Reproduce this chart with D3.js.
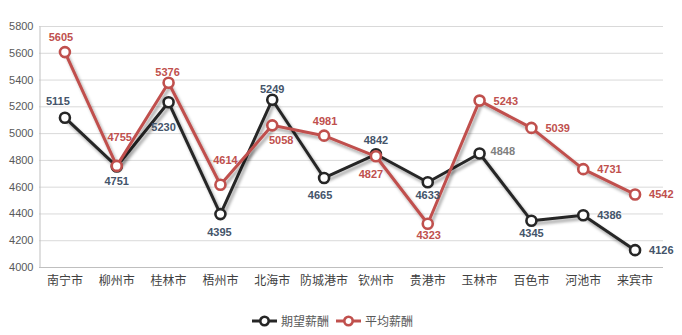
<!DOCTYPE html>
<html><head><meta charset="utf-8">
<script src="https://cdn.jsdelivr.net/npm/d3@7"></script>
<style>body{margin:0;background:#fff}svg{display:block}</style>
</head><body>
<svg id="c" width="682" height="335"></svg>
<script>
const categories = ["南宁市","柳州市","桂林市","梧州市","北海市","防城港市","钦州市","贵港市","玉林市","百色市","河池市","来宾市"];
const expected = [5115,4751,5230,4395,5249,4665,4842,4633,4848,4345,4386,4126];
const average  = [5605,4755,5376,4614,5058,4981,4827,4323,5243,5039,4731,4542];
const yTicks = [4000,4200,4400,4600,4800,5000,5200,5400,5600,5800];
const seriesNames = ["期望薪酬","平均薪酬"];

// label placement (layout only): [dx, dy of label centre, anchor]
const expectedLabelLayout = [[-7,-17,"m"],[0,15,"m"],[-5,25,"m"],[-1,18,"m"],[0,-11,"m"],[-4,17,"m"],[0,-14,"m"],[0,13,"m"],[11,-2,"s"],[0,12,"m"],[14,0,"s"],[14,0,"s"]];
const averageLabelLayout  = [[-4,-15,"m"],[3,-29,"m"],[-1,-11,"m"],[5,-25,"m"],[9,15,"m"],[1,-15,"m"],[-5,18,"m"],[1,11,"m"],[14,0,"s"],[14,0,"s"],[14,0,"s"],[14,0,"s"]];

const svg = d3.select("#c");
const L=39, R=661, T=26, B=267;
const x = d3.scaleBand().domain(categories).range([L,R]);
const y = d3.scaleLinear().domain([4000,5800]).range([B,T]);

const defs = svg.append("defs");
const f = defs.append("filter").attr("id","sh").attr("x","-10%").attr("y","-10%").attr("width","130%").attr("height","140%");
f.append("feDropShadow").attr("dx",2).attr("dy",3).attr("stdDeviation",1.6).attr("flood-color","#000").attr("flood-opacity",0.35);

// gridlines
svg.append("g").selectAll("line").data(yTicks).join("line")
  .attr("x1",L).attr("x2",663).attr("y1",d=>y(d)+0.5).attr("y2",d=>y(d)+0.5)
  .attr("stroke","#d9d9d9").attr("stroke-width",1);

// y axis
const ya = svg.append("g").attr("transform",`translate(${L+0.5},0)`)
  .call(d3.axisLeft(y).tickValues(yTicks).tickFormat(d3.format("d")).tickSize(0).tickPadding(6));
ya.select(".domain").attr("stroke","#bfbfbf");
ya.selectAll("text").attr("fill","#595959").style("font-family","Liberation Sans, Arial, sans-serif").style("font-size","11px");

// x axis
const xa = svg.append("g").attr("transform",`translate(0,${B+0.5})`)
  .call(d3.axisBottom(x).tickSize(0).tickPadding(9));
xa.select(".domain").attr("stroke","#bfbfbf").attr("d",`M${L},0H663`);
xa.selectAll("text").attr("fill","#404040").style("font-family","Noto Sans CJK SC, sans-serif").style("font-size","12px");

const cx = c => x(c) + x.bandwidth()/2;
const line = d3.line().x((d,i)=>cx(categories[i])).y(d=>y(d));

const series = [
  {name:seriesNames[0], vals:expected, lay:expectedLabelLayout, color:"#262626", label:"#44546a"},
  {name:seriesNames[1], vals:average, lay:averageLabelLayout, color:"#c0504d", label:"#c0504d"}
];

series.forEach(s=>{
  const g = svg.append("g");
  g.append("path").datum(s.vals).attr("d",line).attr("fill","none")
    .attr("stroke",s.color).attr("stroke-width",3).attr("stroke-linejoin","round").attr("filter","url(#sh)");
  g.selectAll("circle").data(s.vals).join("circle")
    .attr("cx",(d,i)=>cx(categories[i])).attr("cy",d=>y(d)).attr("r",5)
    .attr("fill","#fff").attr("stroke",s.color).attr("stroke-width",2.6);
});

series.forEach(s=>{
  svg.append("g").selectAll("text").data(s.vals).join("text")
    .attr("x",(d,i)=>cx(categories[i])+s.lay[i][0])
    .attr("y",(d,i)=>y(d)+s.lay[i][1]+4)
    .attr("text-anchor",(d,i)=>s.lay[i][2]==="s"?"start":"middle")
    .attr("fill",(d,i)=> (s.name==="期望薪酬" && i===8) ? "#7f7f7f" : s.label)
    .style("font-family","Liberation Sans, Arial, sans-serif").style("font-size","11px").style("font-weight","bold")
    .text(d=>d);
});

// legend
const lg = svg.append("g").attr("transform","translate(0,321)");
const items = [{x:252, s:series[0]},{x:336, s:series[1]}];
items.forEach(it=>{
  lg.append("line").attr("x1",it.x).attr("x2",it.x+25).attr("y1",0).attr("y2",0).attr("stroke",it.s.color).attr("stroke-width",3);
  lg.append("circle").attr("cx",it.x+12.5).attr("cy",0).attr("r",4.2).attr("fill","#fff").attr("stroke",it.s.color).attr("stroke-width",2.6);
  lg.append("text").attr("x",it.x+29).attr("y",4.5).attr("fill","#595959")
    .style("font-family","Noto Sans CJK SC, sans-serif").style("font-size","12px").text(it.s.name);
});
</script>
</body></html>
